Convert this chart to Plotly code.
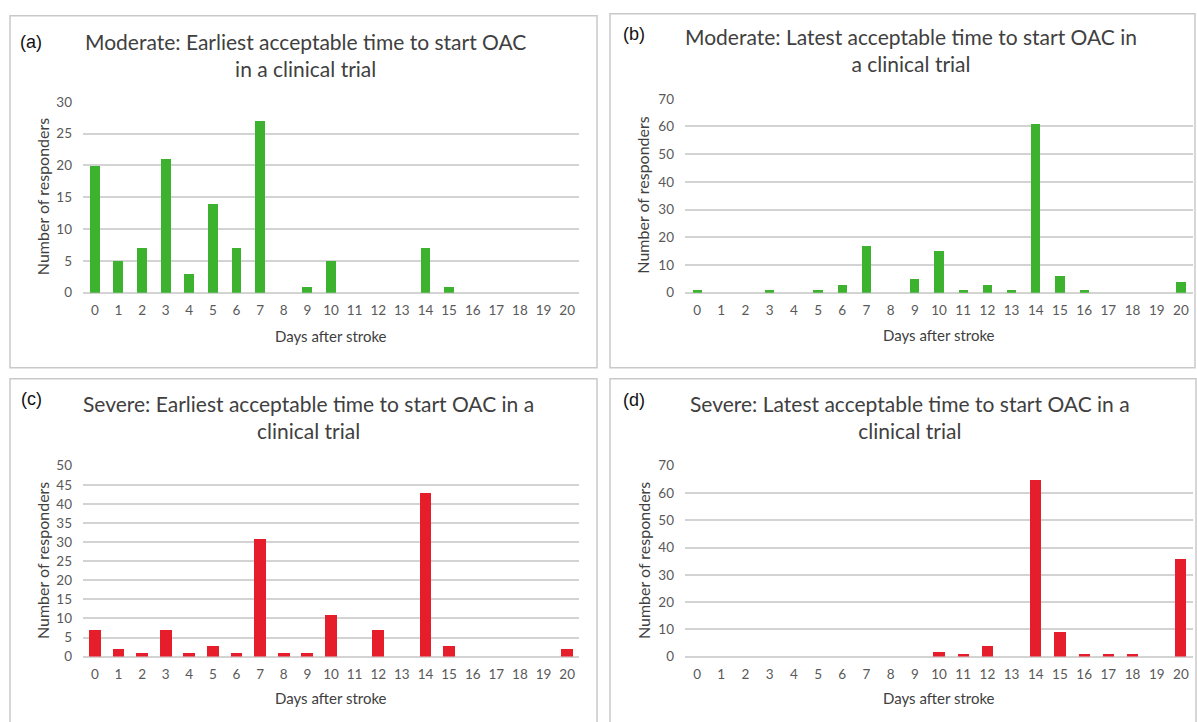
import plotly.graph_objects as go

W, H = 1197, 722

days = list(range(21))
day_labels = [str(d) for d in days]

mod_earliest = [20, 5, 7, 21, 3, 14, 7, 27, 0, 1, 5, 0, 0, 0, 7, 1, 0, 0, 0, 0, 0]
mod_latest = [1, 0, 0, 1, 0, 1, 3, 17, 0, 5, 15, 1, 3, 1, 61, 6, 1, 0, 0, 0, 4]
sev_earliest = [7, 2, 1, 7, 1, 3, 1, 31, 1, 1, 11, 0, 7, 0, 43, 3, 0, 0, 0, 0, 2]
sev_latest = [0, 0, 0, 0, 0, 0, 0, 0, 0, 0, 2, 1, 4, 0, 65, 9, 1, 1, 1, 0, 36]

titles = [
    "Moderate: Earliest acceptable time to start OAC<br>in a clinical trial",
    "Moderate: Latest acceptable time to start OAC in<br>a clinical trial",
    "Severe: Earliest acceptable time to start OAC in a<br>clinical trial",
    "Severe: Latest acceptable time to start OAC in a<br>clinical trial",
]
panel_labels = ["(a)", "(b)", "(c)", "(d)"]
y_max = [30, 70, 50, 70]
y_step = [5, 10, 5, 10]

GREEN = "#3DB22F"
RED = "#E61E2B"
colors = [GREEN, GREEN, RED, RED]
series = [mod_earliest, mod_latest, sev_earliest, sev_latest]
bar_widths = [0.42, 0.38, 0.5, 0.46]

def px(x):
    return x / W

def py(y):
    # compensate the vertical mapping observed in the rendered screenshot
    yc = (y - 6.3) / 0.978
    return 1 - yc / H

# pixel geometry of each panel (target pixel positions in the picture)
plot_x = [(83, 579), (685, 1193), (83, 579), (685, 1193)]
plot_y = [(291, 100), (291, 97), (655, 464), (655, 464)]
boxes = [(10, 14, 597, 366), (610, 12, 1195, 366), (10, 377, 597, 740), (610, 377, 1196, 740)]
title_pos = [(305, 53), (911, 48), (308, 415), (910, 415)]
label_pos = [(31, 40), (634, 32), (31, 397), (634, 398)]
ytitle_x = [42, 643, 42, 643]
xtitle_y = [334, 333, 696, 696]

TEXT = "#404040"
TICK = "#595959"
GRID = "#D3D3D3"
FONT = "Lato"

fig = go.Figure()
layout = dict(
    width=W, height=H,
    margin=dict(l=0, r=0, t=0, b=0),
    paper_bgcolor="white", plot_bgcolor="white",
    showlegend=False,
    font=dict(family=FONT, color=TEXT),
    bargap=0,
)

annotations = []
shapes = []

for i in range(4):
    n = "" if i == 0 else str(i + 1)
    xa = "x" + n
    ya = "y" + n
    fig.add_trace(go.Bar(
        x=days, y=series[i], xaxis=xa, yaxis=ya,
        marker=dict(color=colors[i], line=dict(width=0)),
        width=bar_widths[i],
    ))
    x0, x1 = plot_x[i]
    yb, yt = plot_y[i]
    layout["xaxis" + n] = dict(
        domain=[px(x0), px(x1)], anchor=ya,
        range=[-0.5, 20.5], tickmode="array", tickvals=days, ticktext=day_labels,
        showgrid=False, zeroline=False, showline=False, ticks="",
        tickfont=dict(family=FONT, size=13.5, color=TICK),
        ticklabelstandoff=8, fixedrange=True,
    )
    yrng = y_max[i]
    layout["yaxis" + n] = dict(
        domain=[max(0, py(yb)), min(1, py(yt))], anchor=xa,
        range=[0, yrng * 1.0005], dtick=y_step[i], tick0=0,
        showgrid=True, gridcolor=GRID, gridwidth=1.5,
        zeroline=True, zerolinecolor=GRID, zerolinewidth=1.5,
        showline=False, ticks="",
        tickfont=dict(family=FONT, size=13.5, color=TICK),
        ticklabelstandoff=10, fixedrange=True,
    )
    bx0, by0, bx1, by1 = boxes[i]
    shapes.append(dict(type="rect", xref="paper", yref="paper",
                       x0=px(bx0), x1=px(bx1), y0=py(by1), y1=py(by0),
                       line=dict(color="#C9C9C9", width=1.5), layer="below"))
    tx, ty = title_pos[i]
    annotations.append(dict(text=titles[i], xref="paper", yref="paper",
                            x=px(tx), y=py(ty), xanchor="center", yanchor="middle",
                            showarrow=False, align="center",
                            font=dict(family=FONT, size=21, color=TEXT)))
    lx, ly = label_pos[i]
    annotations.append(dict(text=panel_labels[i], xref="paper", yref="paper",
                            x=px(lx), y=py(ly), xanchor="center", yanchor="middle",
                            showarrow=False,
                            font=dict(family="Liberation Sans", size=18, color="#111111")))
    annotations.append(dict(text="Number of responders", xref="paper", yref="paper",
                            x=px(ytitle_x[i]), y=py((yb + yt) / 2), xanchor="center", yanchor="middle",
                            textangle=-90, showarrow=False,
                            font=dict(family=FONT, size=16, color=TEXT)))
    annotations.append(dict(text="Days after stroke", xref="paper", yref="paper",
                            x=px((x0 + x1) / 2), y=py(xtitle_y[i]), xanchor="center", yanchor="middle",
                            showarrow=False,
                            font=dict(family=FONT, size=15, color=TEXT)))

layout["annotations"] = annotations
layout["shapes"] = shapes
fig.update_layout(**layout)

page_fix = (
    "var de=document.documentElement, b=document.body;"
    "de.style.margin='0'; de.style.padding='0'; de.style.overflow='hidden';"
    "b.style.margin='0'; b.style.padding='0'; b.style.overflow='hidden';"
    "var gd=document.getElementById('{plot_id}');"
    "gd.style.display='block';"
    "if(gd.parentElement){gd.parentElement.style.height='722px';gd.parentElement.style.overflow='hidden';}"
)
fig.write_html("out.html", config={"displayModeBar": False}, post_script=page_fix)
